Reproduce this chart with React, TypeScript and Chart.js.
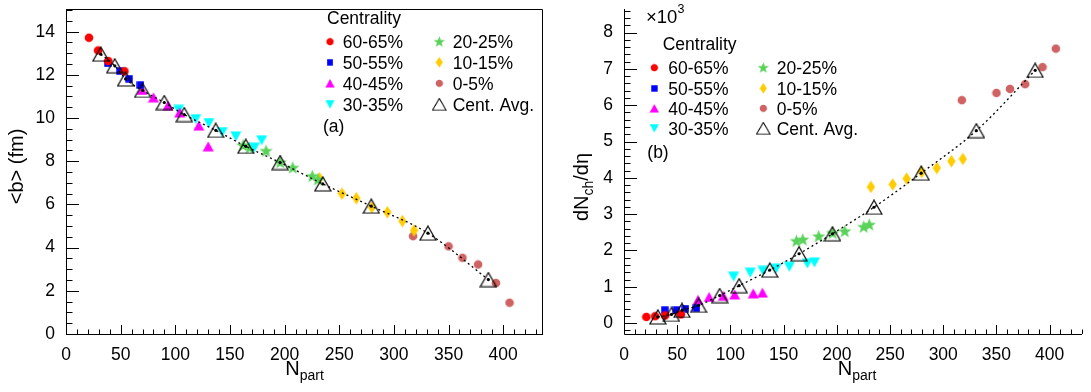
import React, { useEffect, useRef } from 'react';
import { Chart, registerables } from 'chart.js';

Chart.register(...registerables);

const FONT = '"Liberation Sans", Arial, Helvetica, sans-serif';

// ---------------- data ----------------
const npartC6065 = [21, 29.3, 38.7, 53.5];
const bC6065 = [13.72, 13.13, 12.64, 12.17];
const dnC6065 = [0.17, 0.19, 0.21, 0.24];

const npartC5055 = [38.3, 49.3, 57.7, 68.1];
const bC5055 = [12.53, 12.17, 11.82, 11.53];
const dnC5055 = [0.36, 0.36, 0.4, 0.41];

const npartC4045 = [69.5, 80, 93.3, 104, 121.5, 130.1];
const bC4045 = [11.3, 10.96, 10.58, 10.26, 9.65, 8.69];
const dnC4045 = [0.64, 0.72, 0.75, 0.79, 0.82, 0.84];

const npartC3035 = [103, 118.7, 130.7, 143, 155.4, 172.3, 179];
const bC3035 = [10.38, 9.95, 9.77, 9.35, 9.15, 8.63, 8.97];
const dnC3035 = [1.28, 1.39, 1.44, 1.5, 1.55, 1.64, 1.67];

const npartC2025 = [162, 168, 183, 196, 207.5, 225.3, 230.5];
const bC2025 = [8.73, 8.62, 8.48, 7.95, 7.7, 7.31, 7.15];
const dnC2025 = [2.26, 2.3, 2.39, 2.48, 2.53, 2.65, 2.71];

const npartC1015 = [232, 252.5, 265.6, 279.8, 294, 307.7, 318.4];
const bC1015 = [7.21, 6.5, 6.29, 5.87, 5.64, 5.23, 4.8];
const dnC1015 = [3.75, 3.82, 3.98, 4.16, 4.27, 4.46, 4.52];

const npartC005 = [317.5, 350, 362.7, 377, 393.3, 405.8];
const bC005 = [4.53, 4.06, 3.53, 3.22, 2.36, 1.45];
const dnC005 = [6.14, 6.34, 6.45, 6.58, 7.05, 7.56];

const npartAvg = [31.8, 44.6, 54.5, 70.1, 89.9, 108.2, 137, 164.5, 195.9, 234.9, 279.3, 331.1, 386.4];
const bAvg = [12.96, 12.42, 11.81, 11.28, 10.72, 10.16, 9.43, 8.69, 7.94, 6.95, 5.92, 4.67, 2.52];
const dnAvg = [0.17, 0.24, 0.35, 0.49, 0.76, 1.03, 1.46, 1.91, 2.46, 3.19, 4.13, 5.3, 6.96];

const classLabels = ['60-65%', '50-55%', '40-45%', '30-35%', '20-25%', '10-15%', '0-5%', 'Cent. Avg.'];
const legendTitle = 'Centrality';
const xTitleMain = 'N';
const xTitleSub = 'part';

const COLORS = ['#ff0000', '#0000ff', '#ff00ff', '#00ffff', '#5ad25a', '#ffcc00', '#cf6262', '#000000'];
type Kind = 'circle' | 'square' | 'triUp' | 'triDown' | 'star' | 'diamond' | 'openTri';
const KINDS: Kind[] = ['circle', 'square', 'triUp', 'triDown', 'star', 'diamond', 'circle', 'openTri'];

// ---------------- markers ----------------
function makeMarker(kind: Kind, color: string): HTMLCanvasElement {
  const dims: Record<Kind, [number, number]> = {
    circle: [10, 10], square: [8, 8], triUp: [12, 11], triDown: [12, 11],
    star: [15, 15], diamond: [9, 13], openTri: [18, 16],
  };
  const [w, h] = dims[kind];
  const c = document.createElement('canvas');
  c.width = w; c.height = h;
  const g = c.getContext('2d')!;
  g.fillStyle = color; g.strokeStyle = color;
  g.beginPath();
  switch (kind) {
    case 'circle': g.arc(w / 2, h / 2, 4.3, 0, Math.PI * 2); g.fill(); break;
    case 'square': g.fillRect(0.3, 0.3, 7.4, 7.4); break;
    case 'triUp': g.moveTo(0.5, h - 0.5); g.lineTo(w - 0.5, h - 0.5); g.lineTo(w / 2, 0.5); g.closePath(); g.fill(); break;
    case 'triDown': g.moveTo(0.5, 0.5); g.lineTo(w - 0.5, 0.5); g.lineTo(w / 2, h - 0.5); g.closePath(); g.fill(); break;
    case 'star': {
      const cx = w / 2, cy = h / 2 + 0.4, R = 7, r = 2.9;
      for (let i = 0; i < 10; i++) {
        const ang = -Math.PI / 2 + (i * Math.PI) / 5;
        const rr = i % 2 ? r : R;
        const x = cx + rr * Math.cos(ang), y = cy + rr * Math.sin(ang);
        if (i) g.lineTo(x, y); else g.moveTo(x, y);
      }
      g.closePath(); g.fill(); break;
    }
    case 'diamond': g.moveTo(w / 2, 0.3); g.lineTo(w - 0.3, h / 2); g.lineTo(w / 2, h - 0.3); g.lineTo(0.3, h / 2); g.closePath(); g.fill(); break;
    case 'openTri': g.lineWidth = 1.2; g.moveTo(1, h - 1); g.lineTo(w - 1, h - 1); g.lineTo(w / 2, 1); g.closePath(); g.stroke(); break;
  }
  return c;
}

function pts(xs: number[], ys: number[]) {
  return xs.map((x, i) => ({ x, y: ys[i] }));
}

// ---------------- text helpers ----------------
type Part = { t: string; size: number; dy: number };
function rich(ctx: CanvasRenderingContext2D, parts: Part[], x: number, y: number, align: 'left' | 'center') {
  let total = 0;
  const widths = parts.map((p) => {
    ctx.font = `${p.size}px ${FONT}`;
    const w = ctx.measureText(p.t).width;
    total += w;
    return w;
  });
  let cx = align === 'center' ? x - total / 2 : x;
  ctx.textAlign = 'left';
  ctx.textBaseline = 'alphabetic';
  parts.forEach((p, i) => {
    ctx.font = `${p.size}px ${FONT}`;
    ctx.fillText(p.t, cx, y + p.dy);
    cx += widths[i];
  });
}

type LegendPos = {
  titleX: number; titleY: number; rows: number[];
  m1: number; t1: number; m2: number; t2: number;
  tag: string; tagX: number; tagY: number;
};
function drawLegend(ctx: CanvasRenderingContext2D, L: LegendPos, markers: HTMLCanvasElement[]) {
  ctx.fillStyle = '#000';
  ctx.textAlign = 'left';
  ctx.textBaseline = 'alphabetic';
  ctx.font = `17.5px ${FONT}`;
  ctx.fillText(legendTitle, L.titleX, L.titleY);
  const s = 0.85;
  for (let i = 0; i < 8; i++) {
    const col = i < 4 ? 0 : 1;
    const row = i % 4;
    const mx = col ? L.m2 : L.m1;
    const tx = col ? L.t2 : L.t1;
    const cy = L.rows[row];
    const m = markers[i];
    ctx.drawImage(m, mx - (m.width * s) / 2, cy - (m.height * s) / 2, m.width * s, m.height * s);
    ctx.fillStyle = '#000';
    ctx.font = `17.5px ${FONT}`;
    ctx.fillText(classLabels[i], tx, cy + 6.3);
  }
  ctx.fillText(L.tag, L.tagX, L.tagY);
}

type DecoOpts = {
  xMajor: number; xMinor: number; yMajor: number; yMinor: number;
  xMajLen: number; xMinLen: number; yMajLen: number; yMinLen: number;
  frame: boolean;
  draw: (ctx: CanvasRenderingContext2D) => void;
};
function decoPlugin(o: DecoOpts) {
  return {
    id: 'deco',
    afterDraw(chart: any) {
      const ctx: CanvasRenderingContext2D = chart.ctx;
      const a = chart.chartArea;
      const xs = chart.scales.x;
      const ys = chart.scales.y;
      ctx.save();
      ctx.strokeStyle = '#000';
      ctx.lineWidth = 1;
      ctx.beginPath();
      ctx.moveTo(a.left + 0.5, a.top);
      ctx.lineTo(a.left + 0.5, a.bottom + 0.5);
      ctx.lineTo(a.right, a.bottom + 0.5);
      if (o.frame) {
        ctx.moveTo(a.left, a.top + 0.5);
        ctx.lineTo(a.right - 0.5, a.top + 0.5);
        ctx.lineTo(a.right - 0.5, a.bottom);
      }
      const i0 = Math.ceil(xs.min / o.xMinor - 1e-9);
      const i1 = Math.floor(xs.max / o.xMinor + 1e-9);
      for (let i = i0; i <= i1; i++) {
        const v = i * o.xMinor;
        const major = Math.abs(v / o.xMajor - Math.round(v / o.xMajor)) < 1e-6;
        const px = Math.round(xs.getPixelForValue(v)) + 0.5;
        ctx.moveTo(px, a.bottom);
        ctx.lineTo(px, a.bottom - (major ? o.xMajLen : o.xMinLen));
      }
      const j0 = Math.ceil(ys.min / o.yMinor - 1e-9);
      const j1 = Math.floor(ys.max / o.yMinor + 1e-9);
      for (let j = j0; j <= j1; j++) {
        const v = j * o.yMinor;
        const major = Math.abs(v / o.yMajor - Math.round(v / o.yMajor)) < 1e-6;
        const py = Math.round(ys.getPixelForValue(v)) + 0.5;
        ctx.moveTo(a.left, py);
        ctx.lineTo(a.left + (major ? o.yMajLen : o.yMinLen), py);
      }
      ctx.stroke();
      ctx.fillStyle = '#000';
      o.draw(ctx);
      ctx.restore();
    },
  };
}

function buildConfig(opts: {
  ys: number[][]; avgY: number[]; xMax: number; yMin: number; yMax: number; yStep: number;
  padRight: number; yWidth: number; markers: HTMLCanvasElement[]; deco: any;
}) {
  const xsets = [npartC6065, npartC5055, npartC4045, npartC3035, npartC2025, npartC1015, npartC005];
  const datasets: any[] = [
    {
      label: 'fit', data: pts(npartAvg, opts.avgY), showLine: true, borderColor: '#000', borderWidth: 1.3,
      borderDash: [2, 3], pointRadius: 1.6, pointBackgroundColor: '#000', pointBorderWidth: 0,
      cubicInterpolationMode: 'monotone', order: 0,
    },
    {
      label: classLabels[7], data: pts(npartAvg, opts.avgY), pointStyle: opts.markers[7], pointRadius: 8, order: 1,
    },
  ];
  xsets.forEach((xs, i) => {
    datasets.push({
      label: classLabels[i], data: pts(xs, opts.ys[i]), pointStyle: opts.markers[i], pointRadius: 5, order: 2 + i,
    });
  });
  const tickFont = { family: FONT, size: 17.5 };
  return {
    type: 'scatter',
    data: { datasets },
    options: {
      animation: false,
      responsive: false,
      maintainAspectRatio: false,
      events: [],
      layout: { padding: { left: 0, right: opts.padRight, top: 5, bottom: 0 } },
      plugins: { legend: { display: false }, tooltip: { enabled: false } },
      scales: {
        x: {
          type: 'linear', min: 0, max: opts.xMax,
          grid: { display: false }, border: { display: false },
          ticks: { stepSize: 50, includeBounds: false, autoSkip: false, maxRotation: 0, padding: 3, color: '#000', font: tickFont },
          afterFit: (s: any) => { s.height = 58; s.paddingLeft = 0; s.paddingRight = 0; },
        },
        y: {
          type: 'linear', min: opts.yMin, max: opts.yMax,
          grid: { display: false }, border: { display: false },
          ticks: { stepSize: opts.yStep, includeBounds: false, autoSkip: false, padding: 3, color: '#000', font: tickFont },
          afterFit: (s: any) => { s.width = opts.yWidth; s.paddingTop = 0; s.paddingBottom = 0; },
        },
      },
    },
    plugins: [opts.deco],
  } as any;
}

export default function App() {
  const leftRef = useRef<HTMLCanvasElement>(null);
  const rightRef = useRef<HTMLCanvasElement>(null);

  useEffect(() => {
    document.body.style.margin = '0';
    const markers = KINDS.map((k, i) => makeMarker(k, COLORS[i]));

    const leftDeco = decoPlugin({
      xMajor: 50, xMinor: 10, yMajor: 2, yMinor: 0.5,
      xMajLen: 9, xMinLen: 4.5, yMajLen: 13, yMinLen: 6.5, frame: true,
      draw: (ctx) => {
        rich(ctx, [{ t: xTitleMain, size: 20, dy: 0 }, { t: xTitleSub, size: 14, dy: 5 }], 304.5, 375, 'center');
        ctx.save();
        ctx.translate(22.5, 166.5);
        ctx.rotate(-Math.PI / 2);
        rich(ctx, [{ t: '<b> (fm)', size: 20, dy: 0 }], 0, 0, 'center');
        ctx.restore();
        drawLegend(ctx, {
          titleX: 327, titleY: 23.5, rows: [41.7, 62.3, 83.3, 104.3],
          m1: 330, t1: 342.7, m2: 439.3, t2: 452.7, tag: '(a)', tagX: 323, tagY: 131.5,
        }, markers);
      },
    });

    const rightDeco = decoPlugin({
      xMajor: 50, xMinor: 10, yMajor: 1, yMinor: 0.2,
      xMajLen: 9, xMinLen: 4.5, yMajLen: 13, yMinLen: 6.5, frame: false,
      draw: (ctx) => {
        rich(ctx, [{ t: xTitleMain, size: 20, dy: 0 }, { t: xTitleSub, size: 14, dy: 5 }], 297, 375, 'center');
        ctx.save();
        ctx.translate(28, 187);
        ctx.rotate(-Math.PI / 2);
        rich(ctx, [{ t: 'dN', size: 20, dy: 0 }, { t: 'ch', size: 14, dy: 5 }, { t: '/dη', size: 20, dy: 0 }], 0, 0, 'center');
        ctx.restore();
        rich(ctx, [{ t: '×10', size: 18.5, dy: 0 }, { t: '3', size: 12.5, dy: -10.5 }], 86, 23, 'left');
        drawLegend(ctx, {
          titleX: 102.7, titleY: 50, rows: [67.7, 88.3, 108.3, 128.3],
          m1: 94.3, t1: 108.3, m2: 203.3, t2: 216.7, tag: '(b)', tagX: 87.3, tagY: 158,
        }, markers);
      },
    });

    const c1 = new Chart(leftRef.current!, buildConfig({
      ys: [bC6065, bC5055, bC4045, bC3035, bC2025, bC1015, bC005], avgY: bAvg,
      xMax: 436.4, yMin: 0, yMax: 15.05, yStep: 2, padRight: 17, yWidth: 66, markers, deco: leftDeco,
    }));
    const c2 = new Chart(rightRef.current!, buildConfig({
      ys: [dnC6065, dnC5055, dnC4045, dnC3035, dnC2025, dnC1015, dnC005], avgY: dnAvg,
      xMax: 430.4, yMin: -0.3, yMax: 8.65, yStep: 1, padRight: 0, yWidth: 64, markers, deco: rightDeco,
    }));
    return () => { c1.destroy(); c2.destroy(); };
  }, []);

  return (
    <div style={{ position: 'relative', width: 1091, height: 392, background: '#fff', overflow: 'hidden' }}>
      <canvas ref={leftRef} width={560} height={392} style={{ position: 'absolute', left: 0, top: 0, width: 560, height: 392 }} />
      <canvas ref={rightRef} width={531} height={392} style={{ position: 'absolute', left: 560, top: 0, width: 531, height: 392 }} />
    </div>
  );
}
